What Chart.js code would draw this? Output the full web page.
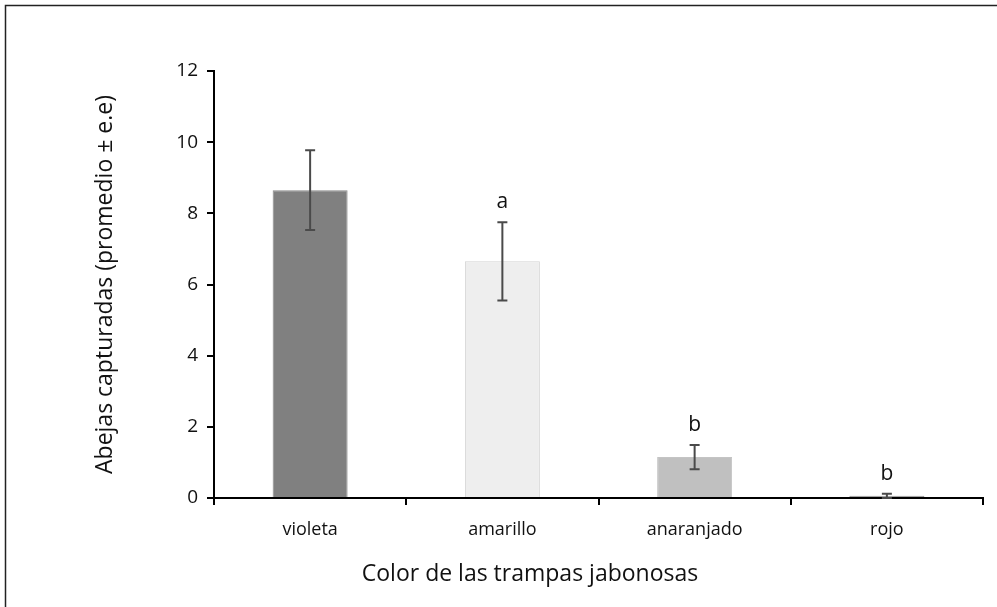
<!DOCTYPE html>
<html>
<head>
<meta charset="utf-8">
<script src="https://cdn.jsdelivr.net/npm/chart.js@4.4.1/dist/chart.umd.min.js"></script>
<style>
  body { margin: 0; background: #fff; }
  canvas { display: block; }
</style>
</head>
<body>
<canvas id="trampas" width="997" height="607"></canvas>
<script>
let colores = ['violeta', 'amarillo', 'anaranjado', 'rojo'];
let promedio = [8.65, 6.65, 1.15, 0.06];
let errorEst = [1.12, 1.1, 0.34, 0.06];
let letras = ['', 'a', 'b', 'b'];
let yTicks = [0, 2, 4, 6, 8, 10, 12];

let fuente = "'Open Sans', 'Noto Sans', sans-serif";

// marco del grafico (borde izquierdo y superior)
let marco = {
    id: 'marco',
    afterDraw(chart) {
        let ctx = chart.ctx;
        ctx.save();
        ctx.strokeStyle = '#222';
        ctx.lineWidth = 1.5;
        ctx.beginPath();
        ctx.moveTo(5.5, chart.height);
        ctx.lineTo(5.5, 5.5);
        ctx.lineTo(chart.width, 5.5);
        ctx.stroke();
        ctx.restore();
    }
};

// barras de error y letras de significancia
let barrasError = {
    id: 'barrasError',
    afterDatasetsDraw(chart) {
        let ctx = chart.ctx;
        let xs = chart.scales.x;
        let ys = chart.scales.y;
        ctx.save();
        for (let i = 0; i < promedio.length; i++) {
            let x = xs.getPixelForValue(i);
            let yHi = ys.getPixelForValue(promedio[i] + errorEst[i]);
            let yLo = ys.getPixelForValue(Math.max(0, promedio[i] - errorEst[i]));
            ctx.strokeStyle = '#4a4a4a';
            ctx.lineWidth = 2;
            ctx.beginPath();
            ctx.moveTo(x, yLo);
            ctx.lineTo(x, yHi);
            ctx.moveTo(x - 5, yHi);
            ctx.lineTo(x + 5, yHi);
            ctx.moveTo(x - 5, yLo);
            ctx.lineTo(x + 5, yLo);
            ctx.stroke();

            if (letras[i]) {
                ctx.fillStyle = '#111';
                ctx.font = '21px ' + fuente;
                ctx.textAlign = 'center';
                ctx.textBaseline = 'alphabetic';
                ctx.fillText(letras[i], x, yHi - 14);
            }
        }
        ctx.restore();
    }
};

let ctx = document.getElementById('trampas').getContext('2d');
let grafico = new Chart(ctx, {
    type: 'bar',
    data: {
        labels: colores,
        datasets: [{
            data: promedio,
            backgroundColor: ['#808080', '#eeeeee', '#c0c0c0', '#8a8a8a'],
            borderColor: ['#888888', '#d3d3d3', '#c4c4c4', '#8a8a8a'],
            borderWidth: 1,
            categoryPercentage: 1,
            barPercentage: 0.39
        }]
    },
    options: {
        responsive: false,
        devicePixelRatio: 1,
        animation: false,
        layout: { padding: { left: 77, top: 71, right: 14, bottom: 0 } },
        plugins: {
            legend: { display: false },
            tooltip: { enabled: false },
            title: {
                display: true,
                text: 'Color de las trampas jabonosas',
                position: 'bottom',
                color: '#111',
                font: { family: fuente, size: 23, weight: 'normal', lineHeight: 1.2 },
                padding: { top: 2, bottom: 19 }
            }
        },
        scales: {
            x: {
                grid: {
                    drawOnChartArea: false,
                    drawTicks: true,
                    tickLength: 7,
                    color: '#000',
                    lineWidth: 2,
                    offset: true
                },
                border: { color: '#000', width: 2 },
                ticks: {
                    color: '#111',
                    padding: 14,
                    font: { family: fuente, size: 18 }
                },
                afterFit(scale) {
                    scale.height = 607 - 498 - 48.6;
                }
            },
            y: {
                min: 0,
                max: 12,
                afterBuildTicks(scale) {
                    scale.ticks = yTicks.map(v => ({ value: v }));
                },
                grid: {
                    drawOnChartArea: false,
                    drawTicks: true,
                    tickLength: 7,
                    color: '#000',
                    lineWidth: 2
                },
                border: { color: '#000', width: 2 },
                ticks: {
                    color: '#111',
                    padding: 9,
                    font: { family: fuente, size: 19 }
                },
                title: {
                    display: true,
                    text: 'Abejas capturadas (promedio ± e.e)',
                    color: '#111',
                    font: { family: fuente, size: 23, lineHeight: 1.2 },
                    padding: { top: 15, bottom: 0 }
                },
                afterFit(scale) {
                    scale.width = 214 - 77;
                }
            }
        }
    },
    plugins: [marco, barrasError]
});
</script>
</body>
</html>
